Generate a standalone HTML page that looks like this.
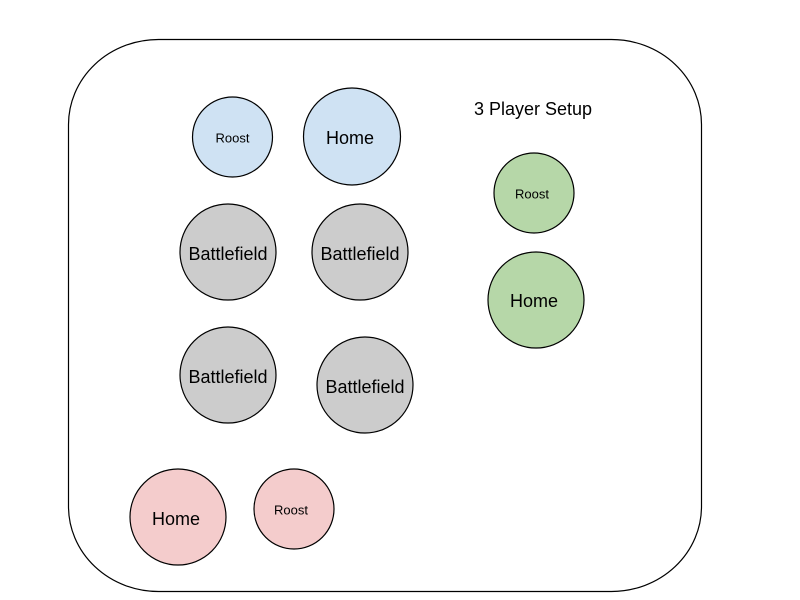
<!DOCTYPE html>
<html><head><meta charset="utf-8"><style>
html,body{margin:0;padding:0;background:#fff;}
svg{display:block;}
text{font-family:"Liberation Sans",Arial,sans-serif;fill:#000;text-anchor:middle;dominant-baseline:central;}
</style></head><body>
<svg width="800" height="600" viewBox="0 0 800 600">
<rect x="68.5" y="39.5" width="633" height="552" rx="90" ry="85" fill="#fff" stroke="#000" stroke-width="1.2"/>
<g stroke="#000" stroke-width="1.2">
<circle cx="232.5" cy="137" r="40" fill="#cfe2f3"/>
<circle cx="352" cy="136.5" r="48.5" fill="#cfe2f3"/>
<circle cx="228" cy="252" r="48" fill="#cccccc"/>
<circle cx="360" cy="252" r="48" fill="#cccccc"/>
<circle cx="228" cy="375" r="48" fill="#cccccc"/>
<circle cx="365" cy="385" r="48" fill="#cccccc"/>
<circle cx="178" cy="517" r="48" fill="#f4cccc"/>
<circle cx="294" cy="509" r="40" fill="#f4cccc"/>
<circle cx="534" cy="193" r="40" fill="#b6d7a8"/>
<circle cx="536" cy="300" r="48" fill="#b6d7a8"/>
</g>
<text x="232.5" y="138" font-size="13">Roost</text>
<text x="350" y="138" font-size="18">Home</text>
<text x="228" y="254" font-size="18">Battlefield</text>
<text x="360" y="254" font-size="18">Battlefield</text>
<text x="228" y="377" font-size="18">Battlefield</text>
<text x="365" y="387" font-size="18">Battlefield</text>
<text x="176" y="519" font-size="18">Home</text>
<text x="291" y="510" font-size="13">Roost</text>
<text x="532" y="194" font-size="13">Roost</text>
<text x="534" y="301" font-size="18">Home</text>
<text x="533" y="109" font-size="18">3 Player Setup</text>
</svg>
</body></html>
